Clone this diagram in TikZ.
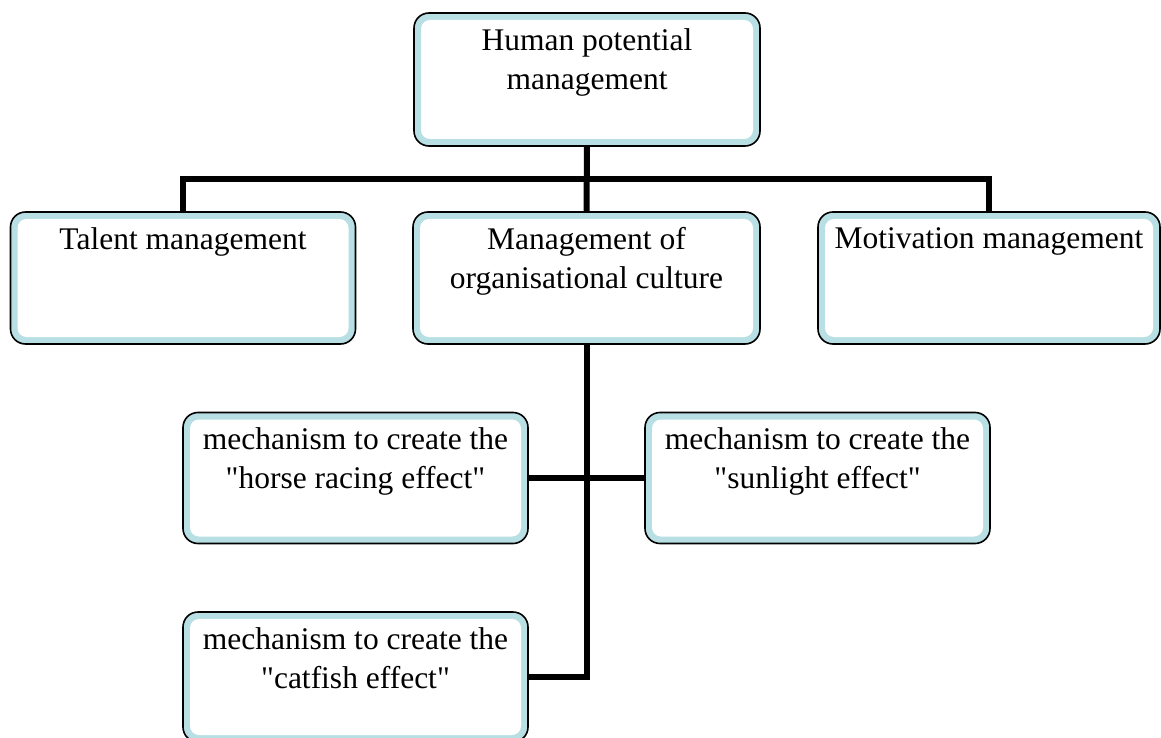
\documentclass[tikz,border=0pt]{standalone}
\usepackage{fontspec}
\setmainfont{Liberation Serif}[Ligatures=TeXOff]
\definecolor{bandblue}{HTML}{B8DFE3}
\begin{document}
\begin{tikzpicture}[x=1pt,y=-1pt,
  orgbox/.style={draw=black, line width=1.6pt, rounded corners=15pt, fill=bandblue,
    inner sep=0pt, outer sep=0pt,
    path picture={\fill[white, rounded corners=9pt]
      ([xshift=7pt,yshift=-7pt]path picture bounding box.north west) rectangle
      ([xshift=-7pt,yshift=7pt]path picture bounding box.south east);}},
  txt/.style={font=\fontsize{31.5}{39}\selectfont, align=center, inner sep=0pt, anchor=north},
  conn/.style={draw=black, line width=6pt, line join=miter}]
\useasboundingbox (0,0) rectangle (1161,738);
% boxes
\node[orgbox, minimum width=346pt, minimum height=133pt] (top) at (587,79.5) {};
\node[orgbox, minimum width=345pt, minimum height=132pt] (tal) at (183,278) {};
\node[orgbox, minimum width=347pt, minimum height=132pt] (mid) at (586.5,278) {};
\node[orgbox, minimum width=342pt, minimum height=132pt] (mot) at (989,278) {};
\node[orgbox, minimum width=345pt, minimum height=131pt] (horse) at (355.5,478) {};
\node[orgbox, minimum width=345pt, minimum height=131pt] (sun) at (817.5,478) {};
\node[orgbox, minimum width=345pt, minimum height=130pt] (cat) at (355.5,677) {};
% texts
\node[txt] (ttop) at ([yshift=-15pt]top.north) {Human potential\\management};
\node[txt] (ttal) at ([yshift=-15pt]tal.north) {Talent management};
\node[txt] (tmid) at ([yshift=-15pt]mid.north) {Management of\\organisational culture};
\node[txt] (tmot) at ([yshift=-15pt]mot.north) {Motivation management};
\node[txt] (thorse) at ([yshift=-15pt]horse.north) {mechanism to create the\\"horse racing effect"};
\node[txt] (tsun) at ([yshift=-15pt]sun.north) {mechanism to create the\\"sunlight effect"};
\node[txt] (tcat) at ([yshift=-15pt]cat.north) {mechanism to create the\\"catfish effect"};
% connectors
\coordinate (bar) at (587,179);
\draw[conn] (top.south) -- (mid.north);
\draw[conn] (tal.north) -- (tal.north |- bar) -- (mot.north |- bar) -- (mot.north);
\draw[conn] (mid.south) -- (mid.south |- cat.east) -- (cat.east);
\draw[conn] (horse.east) -- (sun.west);
\end{tikzpicture}
\end{document}
